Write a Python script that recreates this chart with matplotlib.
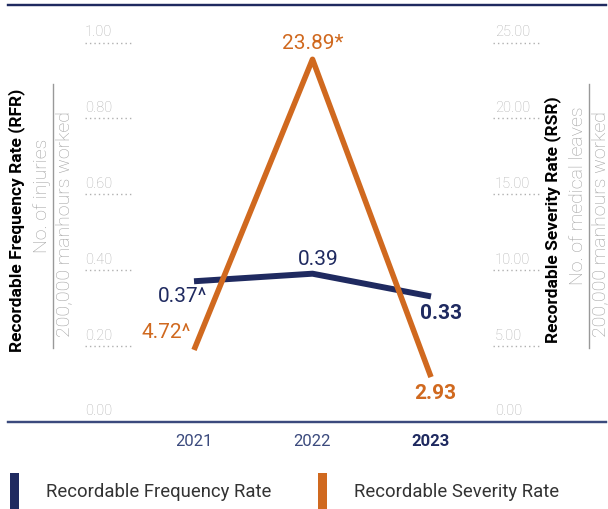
import matplotlib
matplotlib.use('Agg')
import matplotlib.pyplot as plt
from matplotlib.lines import Line2D
from matplotlib.patches import Rectangle

plt.rcParams['font.family'] = ['Roboto', 'DejaVu Sans']

years = ['2021', '2022', '2023']
rfr = [0.37, 0.39, 0.33]
rsr = [4.72, 23.89, 2.93]
rfr_marks = ['^', '', '']
rsr_marks = ['^', '*', '']
rfr_ticks = [0.0, 0.2, 0.4, 0.6, 0.8, 1.0]
rsr_ticks = [0.0, 5.0, 10.0, 15.0, 20.0, 25.0]

NAVY = '#1f2a60'
NAVY_LIGHT = '#3b4a7d'
ORANGE = '#d0691f'
GREY = '#b0b0b0'
GREY_TXT = '#a0a0a0'

W, H = 608, 510
fig = plt.figure(figsize=(W / 100, H / 100), dpi=100)

# axes box in pixels: x 8..606, y 6..422.5 (from top)
x0, x1, ytop, ybot = 8, 606, 6, 422.5
ax1 = fig.add_axes([x0 / W, (H - ybot) / H, (x1 - x0) / W, (ybot - ytop) / H])
ax2 = ax1.twinx()

top_frac = (ybot - ytop) / (ybot - 43.5)
ax1.set_ylim(0, 1.0 * top_frac)
ax2.set_ylim(0, 25.0 * top_frac)
step = 118.5
xmin = -(194 - x0) / step
ax1.set_xlim(xmin, xmin + (x1 - x0) / step)

for a in (ax1, ax2):
    a.set_facecolor('none')
    for s in ('left', 'right'):
        a.spines[s].set_visible(False)
    a.spines['top'].set_color(NAVY)
    a.spines['bottom'].set_color(NAVY_LIGHT)
    a.spines['top'].set_linewidth(1.6)
    a.spines['bottom'].set_linewidth(1.6)
    a.set_yticks([])

ax1.set_xticks(range(len(years)), years)
ax1.tick_params(axis='x', length=0, pad=8, labelsize=12, labelcolor=NAVY_LIGHT)
lbl = ax1.get_xticklabels()[-1]
lbl.set_fontweight('bold')
lbl.set_color(NAVY)

def fx(px):
    return (px - x0) / (x1 - x0)

# tick labels sitting above short dotted rules
for v in rfr_ticks:
    ax1.annotate(f'{v:.2f}', xy=(fx(85), v), xycoords=ax1.get_yaxis_transform(),
                 xytext=(0, 3), textcoords='offset points', ha='left', va='bottom',
                 fontsize=10.5, color=GREY, fontweight='light')
ax1.hlines([v for v in rfr_ticks if v > 0], fx(85), fx(132), transform=ax1.get_yaxis_transform(),
           colors=GREY, linewidth=1, linestyles=(0, (1, 2.2)))
for v in rsr_ticks:
    ax2.annotate(f'{v:.2f}', xy=(fx(495), v), xycoords=ax2.get_yaxis_transform(),
                 xytext=(0, 3), textcoords='offset points', ha='left', va='bottom',
                 fontsize=10.5, color=GREY, fontweight='light')
ax2.hlines([v for v in rsr_ticks if v > 0], fx(493), fx(540), transform=ax2.get_yaxis_transform(),
           colors=GREY, linewidth=1, linestyles=(0, (1, 2.2)))

xs = list(range(len(years)))
ax1.plot(xs, rfr, color=NAVY, linewidth=4.3, solid_capstyle='butt', zorder=3)
ax2.plot(xs, rsr, color=ORANGE, linewidth=4.0, solid_capstyle='butt', zorder=3)

# value labels: (offset, horizontal alignment)
rfr_off = [((-8, -10), 'center'), ((4, 11), 'center'), ((7, -11.5), 'center')]
rsr_off = [((-2, 13), 'right'), ((0, 12), 'center'), ((3, -11), 'center')]
for i, (v, m) in enumerate(zip(rfr, rfr_marks)):
    off, ha = rfr_off[i]
    ax1.annotate(f'{v:.2f}{m}', xy=(i, v), xytext=off, textcoords='offset points',
                 ha=ha, va='center', fontsize=15, color=NAVY,
                 fontweight='bold' if i == len(years) - 1 else 'normal')
for i, (v, m) in enumerate(zip(rsr, rsr_marks)):
    off, ha = rsr_off[i]
    ax2.annotate(f'{v:.2f}{m}', xy=(i, v), xytext=off, textcoords='offset points',
                 ha=ha, va='center', fontsize=15, color=ORANGE,
                 fontweight='bold' if i == len(years) - 1 else 'normal')

# axis titles with fraction
def ytitle(xc, title, num, den):
    fig.text(xc / W, 1 - 220 / H, title, rotation=90, ha='center', va='center',
             fontsize=12.5, fontweight='bold', color='black')
    fig.text((xc + 25) / W, 1 - 196 / H, num, rotation=90, ha='center', va='center',
             fontsize=14, fontweight='light', color=GREY_TXT)
    fig.add_artist(Line2D([(xc + 36) / W] * 2, [1 - 85 / H, 1 - 349 / H],
                          transform=fig.transFigure, color='#999999', linewidth=1))
    fig.text((xc + 47) / W, 1 - 224 / H, den, rotation=90, ha='center', va='center',
             fontsize=14, fontweight='light', color=GREY_TXT)

ytitle(17, 'Recordable Frequency Rate (RFR)', 'No. of injuries', '200,000 manhours worked')
ytitle(553, 'Recordable Severity Rate (RSR)', 'No. of medical leaves', '200,000 manhours worked')

# legend
for xb, c, name in [(10, NAVY, 'Recordable Frequency Rate'), (318, ORANGE, 'Recordable Severity Rate')]:
    fig.add_artist(Rectangle((xb / W, 0), 9 / W, (H - 474) / H, transform=fig.transFigure,
                             color=c, linewidth=0))
    fig.text((xb + 36) / W, 1 - 492 / H, name, ha='left', va='center',
             fontsize=13.3, color='#333333')

fig.savefig('out.png', dpi=100)
